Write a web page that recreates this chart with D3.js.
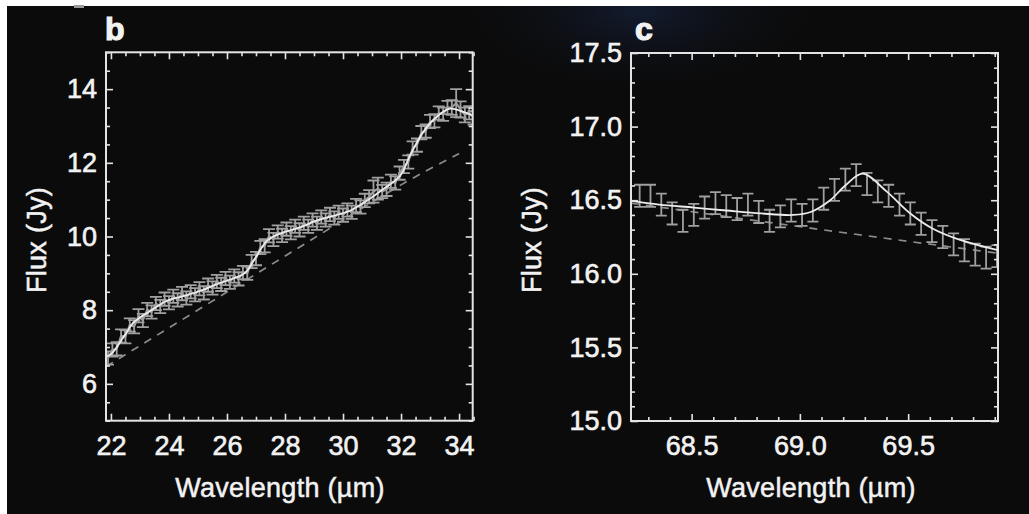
<!DOCTYPE html>
<html>
<head>
<meta charset="utf-8">
<script src="https://cdn.jsdelivr.net/npm/d3@7"></script>
<style>
  html, body { margin: 0; padding: 0; background: #0b0b0b; }
  svg { display: block; }
  text { font-family: "Liberation Sans", Arial, Helvetica, sans-serif; fill: #f2f2f2; }
</style>
</head>
<body>
<svg id="chart" width="1029" height="514"></svg>
<script>
// ---- panel b : 22-34 micron spectrum ----
const waveB = [21.90, 22.05, 22.20, 22.35, 22.50, 22.65, 22.80, 22.95, 23.10, 23.25,
  23.40, 23.55, 23.70, 23.85, 24.00, 24.15, 24.30, 24.45, 24.60, 24.75,
  24.90, 25.05, 25.20, 25.35, 25.50, 25.65, 25.80, 25.95, 26.10, 26.25,
  26.40, 26.55, 26.70, 26.85, 27.00, 27.15, 27.30, 27.45, 27.60, 27.75,
  27.90, 28.05, 28.20, 28.35, 28.50, 28.65, 28.80, 28.95, 29.10, 29.25,
  29.40, 29.55, 29.70, 29.85, 30.00, 30.15, 30.30, 30.45, 30.60, 30.75,
  30.90, 31.05, 31.20, 31.35, 31.50, 31.65, 31.80, 31.95, 32.10, 32.25,
  32.40, 32.55, 32.70, 32.85, 33.00, 33.15, 33.30, 33.45, 33.60, 33.75,
  33.90, 34.05, 34.20, 34.35, 34.50];
const fluxB = [6.70, 6.92, 6.95, 7.30, 7.28, 7.60, 7.55, 7.85, 7.72, 8.02,
  7.95, 8.18, 8.10, 8.30, 8.20, 8.38, 8.28, 8.45, 8.33, 8.50,
  8.42, 8.58, 8.47, 8.68, 8.60, 8.78, 8.70, 8.86, 8.76, 8.93,
  8.85, 9.02, 9.00, 9.32, 9.40, 9.70, 9.75, 10.02, 9.92, 10.12,
  10.03, 10.20, 10.10, 10.28, 10.18, 10.36, 10.28, 10.45, 10.36, 10.53,
  10.45, 10.60, 10.50, 10.66, 10.58, 10.72, 10.66, 10.84, 10.80, 10.98,
  11.08, 11.22, 11.30, 11.22, 11.28, 11.50, 11.45, 11.72, 11.90, 12.02,
  12.40, 12.48, 12.82, 12.86, 13.12, 13.14, 13.35, 13.32, 13.50, 13.50,
  13.62, 13.45, 13.30, 13.36, 13.22];
const errB = [0.18, 0.18, 0.18, 0.18, 0.18, 0.18, 0.18, 0.18, 0.18, 0.18,
  0.18, 0.18, 0.18, 0.18, 0.18, 0.18, 0.18, 0.18, 0.18, 0.18,
  0.18, 0.18, 0.18, 0.18, 0.18, 0.18, 0.18, 0.18, 0.18, 0.18,
  0.18, 0.18, 0.18, 0.18, 0.18, 0.18, 0.18, 0.18, 0.18, 0.18,
  0.18, 0.18, 0.18, 0.18, 0.18, 0.18, 0.18, 0.18, 0.18, 0.18,
  0.18, 0.18, 0.18, 0.18, 0.18, 0.18, 0.18, 0.18, 0.18, 0.18,
  0.18, 0.30, 0.30, 0.18, 0.18, 0.18, 0.18, 0.18, 0.18, 0.18,
  0.18, 0.18, 0.18, 0.18, 0.18, 0.18, 0.18, 0.18, 0.18, 0.20,
  0.38, 0.22, 0.20, 0.18, 0.18];
// model fit (solid) and continuum (dashed)
const fitB = [[21.85, 6.75], [22.0, 6.80], [22.5, 7.35], [22.77, 7.66], [23.0, 7.80],
  [23.34, 7.97], [23.92, 8.25], [24.49, 8.38], [25.07, 8.52], [25.64, 8.70],
  [26.22, 8.86], [26.5, 8.95], [26.68, 9.06], [27.02, 9.47], [27.37, 9.88],
  [27.6, 10.00], [27.94, 10.11], [28.52, 10.25], [29.09, 10.43], [29.67, 10.56],
  [30.24, 10.70], [30.82, 10.97], [31.39, 11.29], [31.97, 11.65], [32.31, 12.20],
  [32.77, 12.84], [33.23, 13.25], [33.69, 13.47], [34.15, 13.38], [34.44, 13.29]];
const contB = [[21.83, 6.47], [24.72, 7.87], [28.17, 9.55], [33.0, 11.84], [34.0, 12.25]];
const xTicksB = [22, 24, 26, 28, 30, 32, 34];
const xLabelsB = ['22', '24', '26', '28', '30', '32', '34'];
const yTicksB = [6, 8, 10, 12, 14];
const yLabelsB = ['6', '8', '10', '12', '14'];

// ---- panel c : 69 micron band ----
const waveC = [68.26, 68.31, 68.36, 68.41, 68.46, 68.51, 68.56, 68.61, 68.66, 68.71,
  68.76, 68.81, 68.86, 68.91, 68.96, 69.01, 69.06, 69.11, 69.16, 69.21,
  69.26, 69.31, 69.36, 69.41, 69.46, 69.51, 69.56, 69.61, 69.66, 69.71,
  69.76, 69.81, 69.86, 69.91];
const fluxC = [16.53, 16.53, 16.47, 16.41, 16.36, 16.40, 16.45, 16.48, 16.46, 16.44,
  16.47, 16.42, 16.36, 16.39, 16.43, 16.40, 16.43, 16.51, 16.57, 16.64,
  16.67, 16.61, 16.56, 16.53, 16.47, 16.41, 16.34, 16.29, 16.25, 16.20,
  16.16, 16.13, 16.11, 16.12];
const errC = 0.075;
const fitC = [[68.22, 16.495], [68.35, 16.47], [68.51, 16.45], [68.66, 16.43], [68.82, 16.41],
  [68.97, 16.40], [69.05, 16.42], [69.14, 16.50], [69.21, 16.60], [69.29, 16.68],
  [69.40, 16.56], [69.51, 16.41], [69.61, 16.31], [69.74, 16.23], [69.915, 16.16]];
const contC = [[68.22, 16.48], [69.05, 16.31], [69.915, 16.14]];
const xTicksC = [68.5, 69.0, 69.5];
const xLabelsC = ['68.5', '69.0', '69.5'];
const yTicksC = [15.0, 15.5, 16.0, 16.5, 17.0, 17.5];
const yLabelsC = ['15.0', '15.5', '16.0', '16.5', '17.0', '17.5'];

const svg = d3.select('#chart');

// background: black photo with a white margin top/left and a faint blue glow
const defs = svg.append('defs');
const glow = defs.append('radialGradient').attr('id', 'glow')
  .attr('cx', 0.5).attr('cy', 0.5).attr('r', 0.5);
glow.append('stop').attr('offset', 0).attr('stop-color', '#131c30');
glow.append('stop').attr('offset', 1).attr('stop-color', '#0b0b0b').attr('stop-opacity', 0);

svg.append('rect').attr('width', 1029).attr('height', 514).attr('fill', '#0b0b0b');
svg.append('ellipse').attr('cx', 640).attr('cy', 10).attr('rx', 200).attr('ry', 90)
  .attr('fill', 'url(#glow)');
svg.append('rect').attr('width', 1029).attr('height', 6).attr('fill', '#ffffff');
svg.append('rect').attr('width', 7).attr('height', 514).attr('fill', '#ffffff');
svg.append('rect').attr('x', 74).attr('y', 5).attr('width', 10).attr('height', 3).attr('fill', '#9a9a9a');

function minorTicks(lo, hi, step, major) {
  const n = Math.round((hi - lo) / step);
  return d3.range(n + 1).map(i => +(lo + i * step).toFixed(3))
    .filter(v => !major.some(m => Math.abs(m - v) < 1e-6));
}

function drawPanel(p) {
  const x = d3.scaleLinear().domain(p.xDomain).range([p.left, p.right]);
  const y = d3.scaleLinear().domain(p.yDomain).range([p.bottom, p.top]);
  const g = svg.append('g');

  const clip = 'clip-' + p.name;
  defs.append('clipPath').attr('id', clip).append('rect')
    .attr('x', p.left).attr('y', p.top)
    .attr('width', p.right - p.left).attr('height', p.bottom - p.top);
  const plot = g.append('g').attr('clip-path', `url(#${clip})`);

  // continuum (dashed)
  plot.append('path').datum(p.cont)
    .attr('d', d3.line().x(d => x(d[0])).y(d => y(d[1])).curve(d3.curveMonotoneX))
    .attr('fill', 'none').attr('stroke', '#8c8c8c').attr('stroke-width', 1.7)
    .attr('stroke-dasharray', '8,7');

  // data with error bars
  const pts = p.wave.map((w, i) => ({ w: w, f: p.flux[i], e: Array.isArray(p.err) ? p.err[i] : p.err }));
  if (p.joinData) {
    plot.append('path').datum(pts)
      .attr('d', d3.line().x(d => x(d.w)).y(d => y(d.f)))
      .attr('fill', 'none').attr('stroke', '#a0a0a0').attr('stroke-width', 2);
  }
  plot.selectAll('path.err').data(pts).enter().append('path')
    .attr('class', 'err')
    .attr('d', d => {
      const cx = x(d.w), yt = y(d.f + d.e), yb = y(d.f - d.e), c = p.cap;
      return `M${cx - c},${yt}H${cx + c}M${cx},${yt}V${yb}M${cx - c},${yb}H${cx + c}`;
    })
    .attr('fill', 'none').attr('stroke', '#a0a0a0').attr('stroke-width', 1.8);

  // model fit
  plot.append('path').datum(p.fit)
    .attr('d', d3.line().x(d => x(d[0])).y(d => y(d[1])).curve(d3.curveCatmullRom.alpha(0.5)))
    .attr('fill', 'none').attr('stroke', '#ececec').attr('stroke-width', 1.8);

  // frame
  g.append('rect').attr('x', p.left).attr('y', p.top)
    .attr('width', p.right - p.left).attr('height', p.bottom - p.top)
    .attr('fill', 'none').attr('stroke', '#e4e4e4').attr('stroke-width', 2);

  const xMinor = minorTicks(p.xMinor[0], p.xMinor[1], p.xMinor[2], p.xTicks);
  const yMinor = minorTicks(p.yMinor[0], p.yMinor[1], p.yMinor[2], p.yTicks);

  const style = sel => {
    sel.select('.domain').remove();
    sel.selectAll('line').attr('stroke', '#e4e4e4').attr('stroke-width', 1.6);
    sel.selectAll('text').style('font-size', '27px').style('font-family', null)
      .attr('fill', '#f4f4f4').attr('stroke', '#f4f4f4').attr('stroke-width', 0.6);
  };
  const axes = [
    [d3.axisBottom(x).tickValues(p.xTicks).tickSize(-7).tickPadding(15).tickFormat((d, i) => p.xLabels[i]), `translate(0,${p.bottom})`],
    [d3.axisBottom(x).tickValues(xMinor).tickSize(-4).tickFormat(''), `translate(0,${p.bottom})`],
    [d3.axisTop(x).tickValues(p.xTicks).tickSize(-7).tickFormat(''), `translate(0,${p.top})`],
    [d3.axisTop(x).tickValues(xMinor).tickSize(-4).tickFormat(''), `translate(0,${p.top})`],
    [d3.axisLeft(y).tickValues(p.yTicks).tickSize(-7).tickPadding(9).tickFormat((d, i) => p.yLabels[i]), `translate(${p.left},0)`],
    [d3.axisLeft(y).tickValues(yMinor).tickSize(-4).tickFormat(''), `translate(${p.left},0)`],
    [d3.axisRight(y).tickValues(p.yTicks).tickSize(-7).tickFormat(''), `translate(${p.right},0)`],
    [d3.axisRight(y).tickValues(yMinor).tickSize(-4).tickFormat(''), `translate(${p.right},0)`]
  ];
  axes.forEach(([ax, tr]) => g.append('g').attr('transform', tr).call(ax).call(style));

  // axis titles
  g.append('text').attr('x', p.xTitleX).attr('y', 488).attr('dy', '0.35em')
    .attr('text-anchor', 'middle').style('font-size', '27px').style('letter-spacing', '0.3px')
    .attr('stroke', '#f2f2f2').attr('stroke-width', 0.5)
    .text('Wavelength (\u00b5m)');
  g.append('text')
    .attr('transform', `translate(${p.yTitleX},240) rotate(-90)`)
    .attr('dy', '0.35em').attr('text-anchor', 'middle')
    .style('font-size', '27px').style('letter-spacing', '0.3px')
    .attr('stroke', '#f2f2f2').attr('stroke-width', 0.5)
    .text('Flux (Jy)');
  // panel letter
  g.append('text').attr('x', p.labelX).attr('y', 40)
    .style('font-size', '32px').style('font-weight', 'bold')
    .attr('stroke', '#f2f2f2').attr('stroke-width', 1.2)
    .text(p.name);
}

drawPanel({
  name: 'b', left: 106, right: 472.7, top: 52.3, bottom: 420.7,
  xDomain: [21.83, 34.47], yDomain: [5, 15],
  wave: waveB, flux: fluxB, err: errB, cap: 6, joinData: true,
  fit: fitB, cont: contB,
  xTicks: xTicksB, xLabels: xLabelsB, yTicks: yTicksB, yLabels: yLabelsB,
  xMinor: [22, 34.5, 0.5], yMinor: [5, 15, 0.5],
  xTitleX: 280, yTitleX: 37, labelX: 105
});

drawPanel({
  name: 'c', left: 631, right: 998, top: 53, bottom: 421,
  xDomain: [68.22, 69.915], yDomain: [15, 17.5],
  wave: waveC, flux: fluxC, err: errC, cap: 5.5, joinData: false,
  fit: fitC, cont: contC,
  xTicks: xTicksC, xLabels: xLabelsC, yTicks: yTicksC, yLabels: yLabelsC,
  xMinor: [68.3, 69.9, 0.1], yMinor: [15, 17.5, 0.1],
  xTitleX: 811, yTitleX: 532, labelX: 635
});
</script>
</body>
</html>
